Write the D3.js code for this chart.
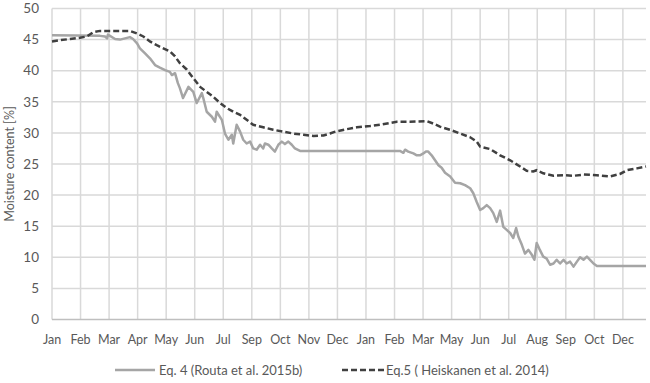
<!DOCTYPE html>
<html><head><meta charset="utf-8">
<script src="https://cdn.jsdelivr.net/npm/d3@7"></script>
<style>body{margin:0;background:#fff}svg{display:block}text{font-family:Lato,"Open Sans",sans-serif;fill:#595959}</style>
</head><body><svg id="c" width="650" height="383"></svg>
<script>
const xLabels = ["Jan","Feb","Mar","Apr","May","Jun","Jul","Sep","Oct","Nov","Dec","Jan","Feb","Mar","May","Jun","Jul","Aug","Sep","Oct","Dec"];
const yTicks = [0,5,10,15,20,25,30,35,40,45,50];
const seriesNames = ["Eq. 4 (Routa et al. 2015b)","Eq.5 ( Heiskanen et al. 2014)"];
// x position in label-interval units, moisture %
const eq4 = [[0,45.7],[1.68,45.6],[1.86,45.5],[1.93,45.2],[1.96,45.8],[2.21,45.1],[2.38,45.0],[2.56,45.2],[2.73,45.4],[2.84,45.1],[2.98,44.4],[3.08,43.6],[3.26,42.8],[3.43,42.0],[3.61,40.9],[3.78,40.5],[3.96,40.1],[4.13,39.8],[4.20,39.3],[4.31,39.6],[4.41,38.0],[4.48,37.2],[4.59,35.6],[4.78,37.4],[4.95,36.6],[5.07,34.8],[5.25,36.4],[5.30,35.6],[5.42,33.4],[5.60,32.6],[5.71,31.8],[5.77,33.4],[5.95,32.1],[6.06,29.9],[6.18,28.9],[6.30,29.7],[6.35,28.3],[6.47,31.3],[6.59,30.2],[6.70,28.9],[6.82,28.3],[6.94,28.6],[7.05,27.5],[7.17,27.3],[7.29,28.1],[7.40,27.5],[7.46,28.3],[7.58,28.1],[7.70,27.5],[7.81,27.0],[7.93,28.1],[8.05,28.6],[8.16,28.2],[8.28,28.6],[8.40,28.1],[8.51,27.5],[8.69,27.1],[12.19,27.1],[12.31,26.8],[12.37,27.3],[12.48,27.0],[12.66,26.7],[12.78,26.4],[12.89,26.4],[13.01,26.7],[13.10,27.0],[13.18,27.0],[13.30,26.4],[13.42,25.6],[13.54,24.8],[13.65,24.4],[13.77,23.6],[13.95,23.0],[14.12,22.0],[14.30,21.9],[14.47,21.6],[14.65,21.1],[14.76,20.3],[14.88,18.9],[15.00,17.6],[15.11,17.9],[15.23,18.4],[15.35,17.9],[15.46,17.1],[15.58,15.7],[15.70,17.5],[15.81,14.9],[15.93,14.4],[16.05,13.9],[16.16,13.1],[16.26,14.7],[16.34,13.3],[16.46,12.0],[16.57,10.6],[16.69,11.2],[16.81,10.4],[16.90,9.6],[16.98,12.3],[17.07,11.4],[17.21,10.1],[17.33,9.8],[17.45,8.8],[17.57,9.0],[17.68,9.6],[17.80,9.0],[17.92,9.6],[18.03,9.0],[18.15,9.3],[18.27,8.5],[18.39,9.3],[18.50,10.0],[18.62,9.6],[18.74,10.1],[18.85,9.6],[18.97,9.0],[19.09,8.6],[20.81,8.6]];
const eq5 = [[0,44.7],[0.28,44.9],[0.63,45.1],[0.98,45.3],[1.22,45.5],[1.45,46.2],[1.68,46.4],[2.27,46.4],[2.73,46.4],[2.97,46.0],[3.20,45.5],[3.43,44.7],[3.67,44.1],[3.90,43.6],[4.13,43.1],[4.31,42.3],[4.48,41.2],[4.72,40.2],[4.95,38.8],[5.19,37.4],[5.42,36.6],[5.65,35.8],[5.89,34.8],[6.12,34.0],[6.35,33.4],[6.59,32.9],[6.82,32.1],[7.05,31.3],[7.40,30.9],[7.75,30.5],[8.10,30.2],[8.45,29.9],[8.81,29.7],[9.16,29.5],[9.51,29.6],[9.74,29.9],[9.92,30.2],[10.33,30.6],[10.68,30.9],[11.14,31.1],[11.49,31.3],[11.84,31.6],[12.08,31.8],[12.54,31.8],[13.13,31.9],[13.36,31.5],[13.59,31.0],[13.95,30.5],[14.30,29.9],[14.65,29.3],[14.88,28.6],[15.00,27.8],[15.35,27.4],[15.70,26.4],[16.05,25.6],[16.40,24.6],[16.63,23.9],[16.86,23.8],[16.98,24.0],[17.21,23.5],[17.57,23.1],[17.92,23.2],[18.27,23.1],[18.62,23.3],[19.09,23.2],[19.55,23.0],[19.90,23.4],[20.14,24.0],[20.49,24.3],[20.81,24.6]];

const svg = d3.select("#c");
const L = 52, R = 646, T = 8.5, B = 319.5;
const x = d3.scaleLinear().domain([0, 20.81]).range([L, R]);
const y = d3.scaleLinear().domain([0, 50]).range([B, T]);

// horizontal gridlines
svg.append("g").selectAll("line").data(yTicks.filter(d=>d>0)).join("line")
  .attr("x1", L).attr("x2", R).attr("y1", d=>y(d)).attr("y2", d=>y(d))
  .attr("stroke", "#d9d9d9").attr("stroke-width", 1.5);
// vertical gridlines
svg.append("g").selectAll("line").data(xLabels.map((d,i)=>i)).join("line")
  .attr("x1", d=>x(d)).attr("x2", d=>x(d)).attr("y1", T).attr("y2", B)
  .attr("stroke", "#d9d9d9").attr("stroke-width", 1.5);
// bottom axis line
svg.append("line").attr("x1", L).attr("x2", R).attr("y1", B).attr("y2", B)
  .attr("stroke", "#bfbfbf").attr("stroke-width", 1.5);

// y tick labels
svg.append("g").selectAll("text").data(yTicks).join("text")
  .attr("x", 39).attr("y", d=>y(d)).attr("dy", "0.35em")
  .attr("text-anchor", "end").attr("font-size", 13.5).text(d=>d);
// x tick labels
svg.append("g").selectAll("text").data(xLabels).join("text")
  .attr("x", (d,i)=>x(i)).attr("y", 344)
  .attr("text-anchor", "middle").attr("font-size", 12.5).text(d=>d);
// y title
svg.append("text").attr("transform", "translate(14," + ((T+B)/2) + ") rotate(-90)")
  .attr("text-anchor", "middle").attr("font-size", 12.5).text("Moisture content [%]");

const line = d3.line().x(d=>x(d[0])).y(d=>y(d[1]));
svg.append("path").datum(eq4).attr("d", line).attr("fill", "none")
  .attr("stroke", "#a5a5a5").attr("stroke-width", 2.5).attr("stroke-linejoin", "round");
svg.append("path").datum(eq5).attr("d", line).attr("fill", "none")
  .attr("stroke", "#404040").attr("stroke-width", 2.5).attr("stroke-dasharray", "6,3");

// legend
const lg = svg.append("g");
lg.append("line").attr("x1", 115).attr("x2", 155).attr("y1", 370).attr("y2", 370)
  .attr("stroke", "#a5a5a5").attr("stroke-width", 2.5);
lg.append("text").attr("x", 159).attr("y", 370).attr("dy", "0.35em").attr("font-size", 13).text(seriesNames[0]);
lg.append("line").attr("x1", 342).attr("x2", 384).attr("y1", 370).attr("y2", 370)
  .attr("stroke", "#404040").attr("stroke-width", 2.5).attr("stroke-dasharray", "6,3");
lg.append("text").attr("x", 386).attr("y", 370).attr("dy", "0.35em").attr("font-size", 13).text(seriesNames[1]);
</script></body></html>
